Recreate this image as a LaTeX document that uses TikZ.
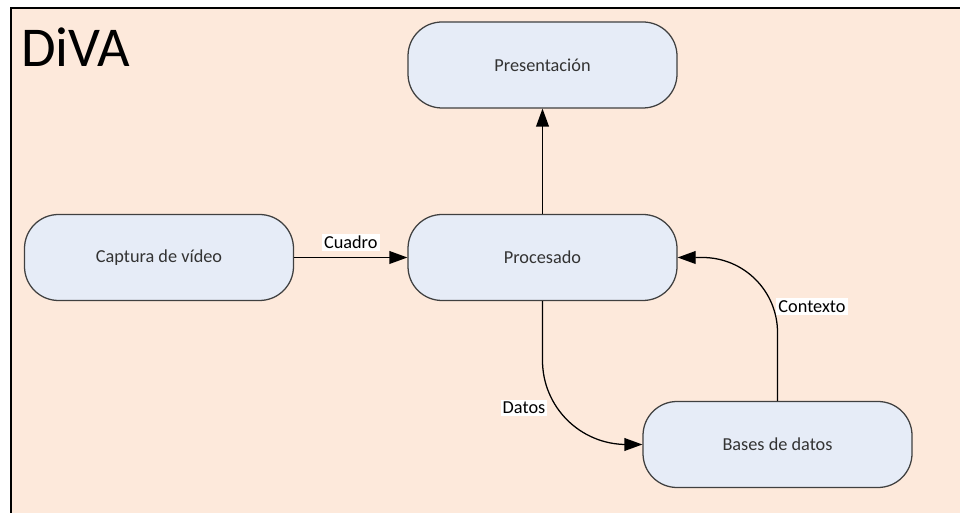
\documentclass[tikz,border=0pt]{standalone}
\usepackage{fontspec}
\setmainfont{Carlito}
\usetikzlibrary{arrows.meta}
\definecolor{colFondo}{HTML}{FDE9DB}
\definecolor{colCaja}{HTML}{E6ECF7}
\definecolor{colBorde}{HTML}{404040}

\begin{document}
\begin{tikzpicture}[
         caja/.style={draw=colBorde, line width=0.9pt, fill=colCaja, rounded corners=0.85cm,
                      minimum width=6.725cm, minimum height=2.15cm,
                      font=\fontsize{13}{15}\selectfont, text=black!80},
         etiq/.style={fill=white, inner sep=1.5pt, font=\fontsize{13}{15}\selectfont},
         flecha/.style={line width=0.9pt, -{Triangle[length=0.45cm, width=0.32cm]}}]
         \useasboundingbox (0, 0) rectangle (24, 12.825);
         \fill [colFondo] (0.275, 0) rectangle (24, 12.625);
         \draw [line width=1.4pt] (0.275, 0) -- (0.275, 12.625) -- (24, 12.625);
         \node [anchor=base west, inner sep=0pt, font=\fontsize{40}{42}\selectfont] (TT) at (0.52, 11.15) {DiVA};
         \node [caja] (PR) at (13.5625, 11.2) {Presentación};
         \node [caja] (CV) at (3.975, 6.3875) {Captura de vídeo};
         \node [caja] (PC) at (13.5625, 6.3875) {Procesado};
         \node [caja] (BD) at (19.4375, 1.7125) {Bases de datos};
         \draw [flecha] (CV) -- node [etiq, above=4pt] {Cuadro} (PC);
         \draw [flecha] (PC) -- (PR);
         \draw [flecha, rounded corners=2.1cm] (PC.south) |- (BD.west);
         \draw [flecha, rounded corners=1.875cm] (BD.north) |- (PC.east);
         \node [etiq] (DT) at (13.1, 2.625) {Datos};
         \node [etiq] (CT) at (20.3, 5.16) {Contexto};
\end{tikzpicture}
\end{document}
